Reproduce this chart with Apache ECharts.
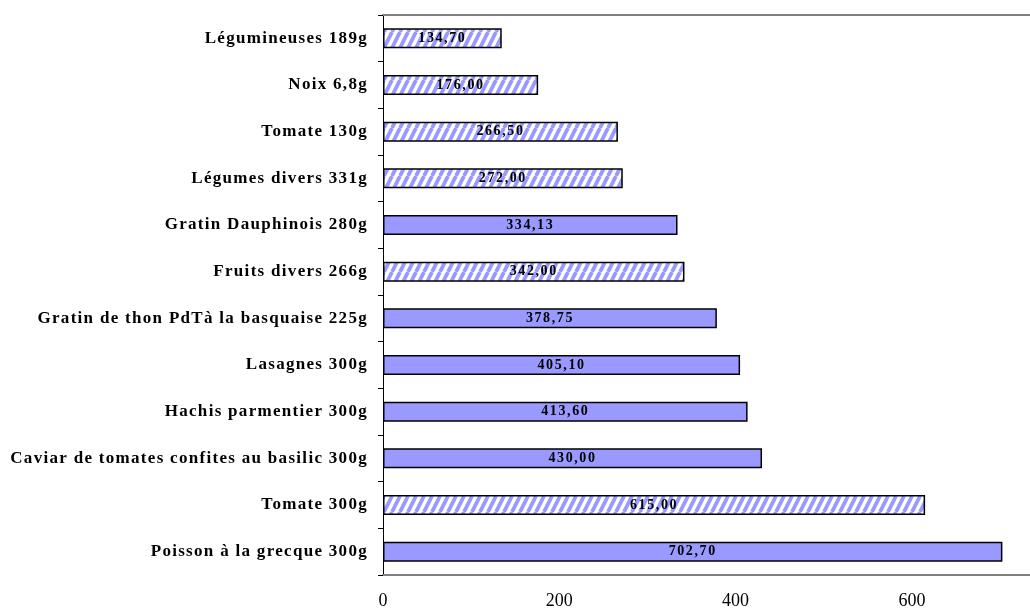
<!DOCTYPE html>
<html>
<head>
<meta charset="utf-8">
<script src="https://cdn.jsdelivr.net/npm/echarts@6/dist/echarts.min.js"></script>
<style>
  html, body { margin: 0; padding: 0; background: #fff; }
  #echarts { width: 1030px; height: 610px; }
</style>
</head>
<body>
<div id="echarts"></div>
<script>
// données (de haut en bas)
var categories = [
  "Légumineuses 189g",
  "Noix 6,8g",
  "Tomate 130g",
  "Légumes divers 331g",
  "Gratin Dauphinois 280g",
  "Fruits divers 266g",
  "Gratin de thon PdTà la basquaise 225g",
  "Lasagnes 300g",
  "Hachis parmentier 300g",
  "Caviar de tomates confites au basilic 300g",
  "Tomate 300g",
  "Poisson à la grecque 300g"
];
var values = [134.70, 176.00, 266.50, 272.00, 334.13, 342.00, 378.75, 405.10, 413.60, 430.00, 615.00, 702.70];
// brut = produit brut (hachuré), plat = plat préparé (plein)
var kinds = ["brut", "brut", "brut", "brut", "plat", "brut", "plat", "plat", "plat", "plat", "brut", "plat"];
var xTicks = [0, 200, 400, 600];

var BLUE = "#9999ff";

// espacement des lettres comme dans Excel (canvas letterSpacing)
var _fillText = CanvasRenderingContext2D.prototype.fillText;
CanvasRenderingContext2D.prototype.fillText = function (t, x, y, m) {
  if ("letterSpacing" in this) {
    var f = this.font;
    this.letterSpacing = /bold 17px/.test(f) ? "1.3px" : /bold 14px/.test(f) ? "1.6px" : "0px";
  }
  return m === undefined ? _fillText.call(this, t, x, y) : _fillText.call(this, t, x, y, m);
};

// motif hachuré
function stripes() {
  var w = 8, h = 16;
  var c = document.createElement("canvas");
  c.width = w; c.height = h;
  var ctx = c.getContext("2d");
  ctx.fillStyle = "#fff";
  ctx.fillRect(0, 0, w, h);
  ctx.strokeStyle = BLUE;
  ctx.lineWidth = 3.8;
  ctx.beginPath();
  ctx.moveTo(0, h); ctx.lineTo(w, 0);
  ctx.moveTo(-w, h); ctx.lineTo(0, 0);
  ctx.moveTo(w, h); ctx.lineTo(2 * w, 0);
  ctx.stroke();
  return c;
}
var hatch = { image: stripes(), repeat: "repeat" };

var chartDom = document.getElementById("echarts");
var myChart = echarts.init(chartDom);
var option;

var FONT = '"Liberation Serif", serif';

option = {
  animation: false,
  textStyle: { fontFamily: FONT },
  grid: { left: 383, right: 0, top: 15, bottom: 33 },
  xAxis: [
    {
      type: "value",
      min: 0,
      max: 734,
      interval: 200,
      splitLine: { show: false },
      axisTick: { show: false },
      axisLine: { show: true, lineStyle: { color: "#808080", width: 2 } },
      axisLabel: {
        color: "#000",
        fontSize: 18,
        fontFamily: FONT,
        margin: 17,
        showMaxLabel: false,
        formatter: function (v) { return xTicks.indexOf(v) >= 0 ? String(v) : ""; }
      }
    },
    {
      type: "value",
      position: "top",
      min: 0,
      max: 734,
      splitLine: { show: false },
      axisTick: { show: false },
      axisLabel: { show: false },
      axisLine: { show: true, lineStyle: { color: "#808080", width: 2 } }
    }
  ],
  yAxis: {
    type: "category",
    inverse: true,
    data: categories,
    axisLine: { show: true, lineStyle: { color: "#000", width: 1 } },
    axisTick: { show: true, length: 5, lineStyle: { color: "#000" } },
    axisLabel: {
      color: "#000",
      fontSize: 17,
      fontWeight: "bold",
      fontFamily: FONT,
      margin: 15
    }
  },
  series: [
    {
      type: "bar",
      barWidth: 20,
      data: values.map(function (v, i) {
        return {
          value: v,
          itemStyle: { color: kinds[i] === "brut" ? hatch : BLUE }
        };
      }),
      itemStyle: { borderColor: "#000", borderWidth: 1.5 },
      label: {
        show: true,
        position: "inside",
        color: "#000",
        fontSize: 14,
        fontWeight: "bold",
        fontFamily: FONT,
        formatter: function (p) { return p.value.toFixed(2).replace(".", ","); }
      }
    }
  ]
};

option && myChart.setOption(option);
</script>
</body>
</html>
